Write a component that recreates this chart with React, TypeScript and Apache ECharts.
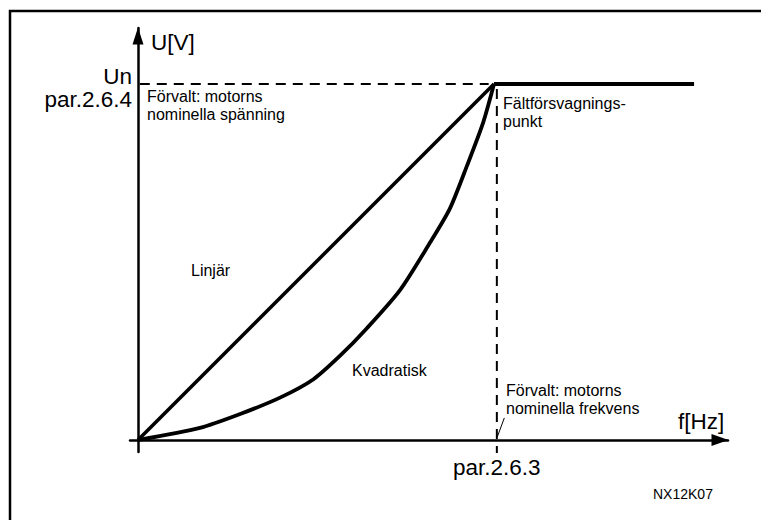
import React, { useEffect, useRef } from "react";
import * as echarts from "echarts";

// Frequency in % of nominal (par.2.6.3 = 100), voltage in % of Un (par.2.6.4 = 100)
const linearCurve: [number, number][] = [
  [0, 0],
  [100, 100],
];
const flatPart: [number, number][] = [
  [100, 100],
  [156.2, 100],
];
const quadraticCurve: [number, number][] = [
  [0, 0],
  [17.4, 3.4],
  [28.7, 7.3],
  [39.9, 11.9],
  [49.2, 17.0],
  [56.7, 23.6],
  [64.3, 31.4],
  [73.6, 42.1],
  [82.0, 55.4],
  [87.6, 65.0],
  [92.4, 77.0],
  [96.9, 89.0],
  [100, 100],
];
const dashedHorizontal: [number, number][] = [
  [0.5, 100],
  [98.5, 100],
];
const dashedVertical: [number, number][] = [
  [100.8, 98.6],
  [100.8, -4.2],
];
const leaderLine: [number, number][] = [
  [100.9, 0.8],
  [102.9, 6.2],
];

const axisLabels = {
  y: "U[V]",
  x: "f[Hz]",
  un: "Un",
  yPar: "par.2.6.4",
  xPar: "par.2.6.3",
};
const notes = {
  voltDefault: "Förvalt: motorns\nnominella spänning",
  fieldWeak: "Fältförsvagnings-\npunkt",
  linear: "Linjär",
  quadratic: "Kvadratisk",
  freqDefault: "Förvalt: motorns\nnominella frekvens",
  code: "NX12K07",
};

const FONT = "Liberation Sans, Arial, Helvetica, sans-serif";

export default function App() {
  const ref = useRef<HTMLDivElement>(null);
  useEffect(() => {
    document.body.style.margin = "0";
    if (!ref.current) return;
    const chart = echarts.init(ref.current, undefined, { renderer: "svg" });
    const lineSeries = (data: [number, number][], width: number, dashed?: boolean, smooth?: number) => ({
      type: "line",
      data,
      symbol: "none",
      silent: true,
      smooth: smooth ?? false,
      lineStyle: {
        color: "#000",
        width,
        type: dashed ? [10, 7] : "solid",
        cap: "butt",
        join: "round",
      },
    });
    const bigText = (text: string, x: number, y: number, align: "left" | "right" = "left") => ({
      type: "text",
      x,
      y,
      style: {
        text,
        fill: "#000",
        font: `22.5px ${FONT}`,
        align,
        verticalAlign: "middle",
      },
    });
    const smallText = (text: string, x: number, y: number) => ({
      type: "text",
      x,
      y,
      style: {
        text,
        fill: "#000",
        font: `16px ${FONT}`,
        lineHeight: 18,
        align: "left",
        verticalAlign: "top",
      },
    });
    const axisCommon = (size: [number, number]) => ({
      show: true,
      onZero: true,
      symbol: ["none", "triangle"],
      symbolSize: size,
      symbolOffset: [0, -8],
      lineStyle: { color: "#000", width: 2.5 },
    });
    chart.setOption({
      animation: false,
      backgroundColor: "#fff",
      grid: { left: 130, top: 28, width: 598, height: 424 },
      xAxis: {
        type: "value",
        min: -2.247,
        max: 165.73,
        axisLine: axisCommon([12, 17]),
        axisTick: { show: false },
        axisLabel: { show: false },
        splitLine: { show: false },
      },
      yAxis: {
        type: "value",
        min: -3.37,
        max: 115.73,
        axisLine: axisCommon([11, 17]),
        axisTick: { show: false },
        axisLabel: { show: false },
        splitLine: { show: false },
      },
      series: [
        lineSeries(dashedHorizontal, 2, true),
        lineSeries(dashedVertical, 2, true),
        lineSeries(leaderLine, 1),
        lineSeries(linearCurve, 3.5),
        lineSeries(flatPart, 4),
        lineSeries(quadraticCurve, 3.8, false, 0.25),
      ],
      graphic: [
        {
          type: "rect",
          shape: { x: 10, y: 11, width: 900, height: 700 },
          style: { fill: "none", stroke: "#000", lineWidth: 2.5 },
          silent: true,
        },
        bigText(axisLabels.y, 151, 42),
        bigText(axisLabels.un, 132, 76, "right"),
        bigText(axisLabels.yPar, 132, 99, "right"),
        bigText(axisLabels.x, 678, 421),
        bigText(axisLabels.xPar, 453, 467),
        smallText(notes.voltDefault, 147, 87),
        smallText(notes.fieldWeak, 503, 94),
        smallText(notes.linear, 191, 261),
        smallText(notes.quadratic, 352, 361),
        smallText(notes.freqDefault, 506, 381),
        {
          type: "text",
          x: 653,
          y: 494,
          style: {
            text: notes.code,
            fill: "#000",
            font: `14px ${FONT}`,
            align: "left",
            verticalAlign: "middle",
          },
        },
      ],
    });
    return () => chart.dispose();
  }, []);
  return <div ref={ref} style={{ width: 761, height: 520 }} />;
}
